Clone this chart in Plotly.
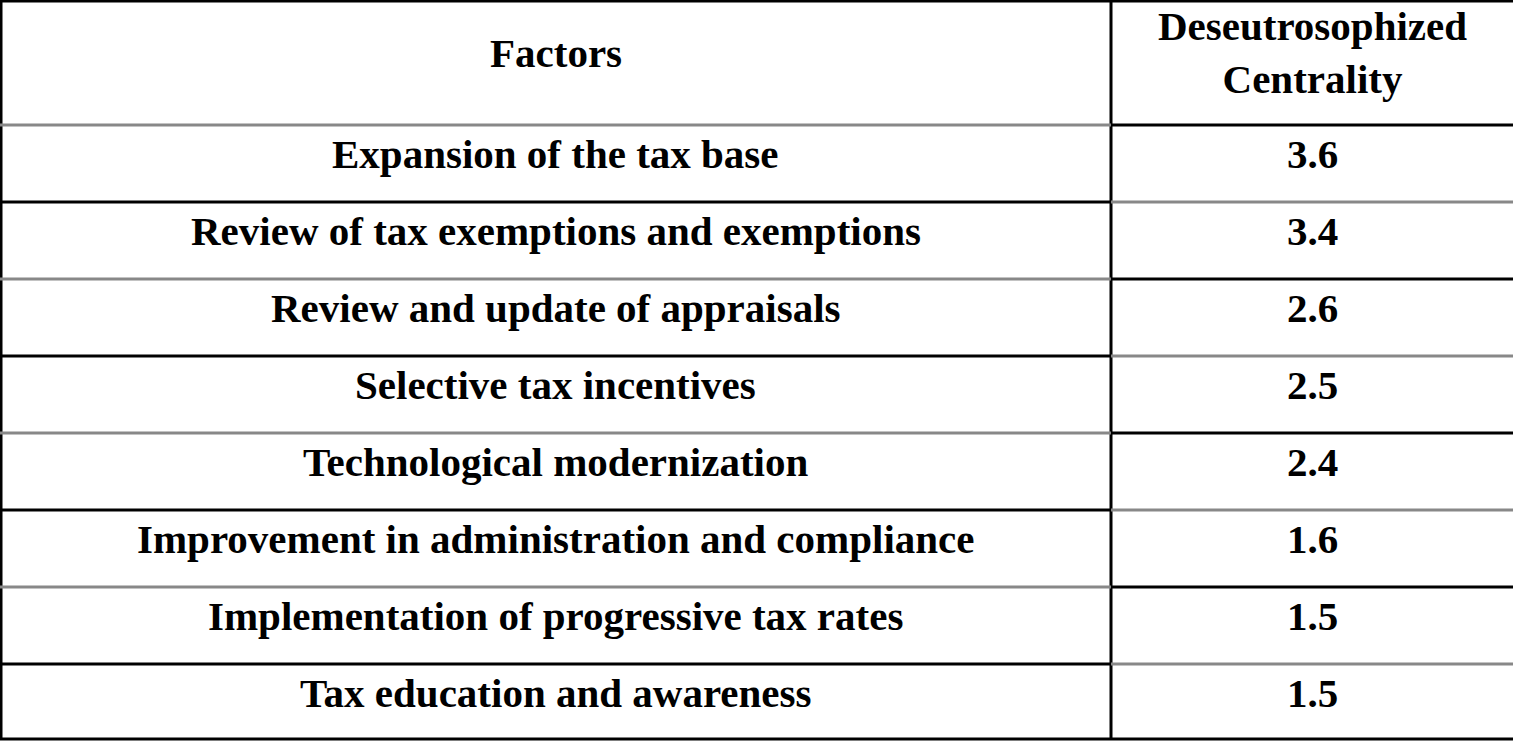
import plotly.graph_objects as go

header = ["Factors", "Deseutrosophized<br>Centrality"]
factors = [
    "Expansion of the tax base",
    "Review of tax exemptions and exemptions",
    "Review and update of appraisals",
    "Selective tax incentives",
    "Technological modernization",
    "Improvement in administration and compliance",
    "Implementation of progressive tax rates",
    "Tax education and awareness",
]
centrality = ["3.6", "3.4", "2.6", "2.5", "2.4", "1.6", "1.5", "1.5"]

W, H = 1513, 748
x_split = 1111
header_h = 125
row_h = 77

font = dict(family="Liberation Serif", size=41, color="black")

fig = go.Figure()
annotations = []
shapes = []

annotations.append(dict(x=x_split / 2, y=header_h / 2 - 10, text="<b>%s</b>" % header[0], showarrow=False, font=font))
annotations.append(dict(x=(x_split + W) / 2, y=header_h / 2 - 10, text="<b>%s</b>" % header[1],
                        showarrow=False, font=font))

for i, (f, c) in enumerate(zip(factors, centrality)):
    yc = header_h + row_h * i + row_h / 2 - 10
    annotations.append(dict(x=x_split / 2, y=yc, text="<b>%s</b>" % f, showarrow=False, font=font))
    annotations.append(dict(x=(x_split + W) / 2, y=yc, text="<b>%s</b>" % c, showarrow=False, font=font))

bottom = header_h + row_h * len(factors) - 2
line = dict(color="black", width=3)
gray = dict(color="#888888", width=3)

# outer border and column divider
shapes.append(dict(type="rect", x0=1, y0=1, x1=W + 5, y1=bottom, line=line))
shapes.append(dict(type="line", x0=x_split, y0=0, x1=x_split, y1=bottom, line=line))
# row dividers
for i in range(len(factors)):
    y = header_h + row_h * i
    shapes.append(dict(type="line", x0=0, y0=y, x1=x_split, y1=y, line=gray if i % 2 == 0 else line))
    shapes.append(dict(type="line", x0=x_split, y0=y, x1=W, y1=y, line=line if i % 2 == 0 else gray))

fig.update_layout(
    width=W, height=H,
    margin=dict(l=0, r=0, t=0, b=0),
    plot_bgcolor="white", paper_bgcolor="white",
    xaxis=dict(range=[0, W], visible=False, fixedrange=True),
    yaxis=dict(range=[H, 0], visible=False, fixedrange=True),
    annotations=annotations, shapes=shapes, showlegend=False,
)

fig.write_html("out.html", config={"displayModeBar": False},
               post_script="document.body.style.margin='0';document.body.style.overflow='hidden';")
